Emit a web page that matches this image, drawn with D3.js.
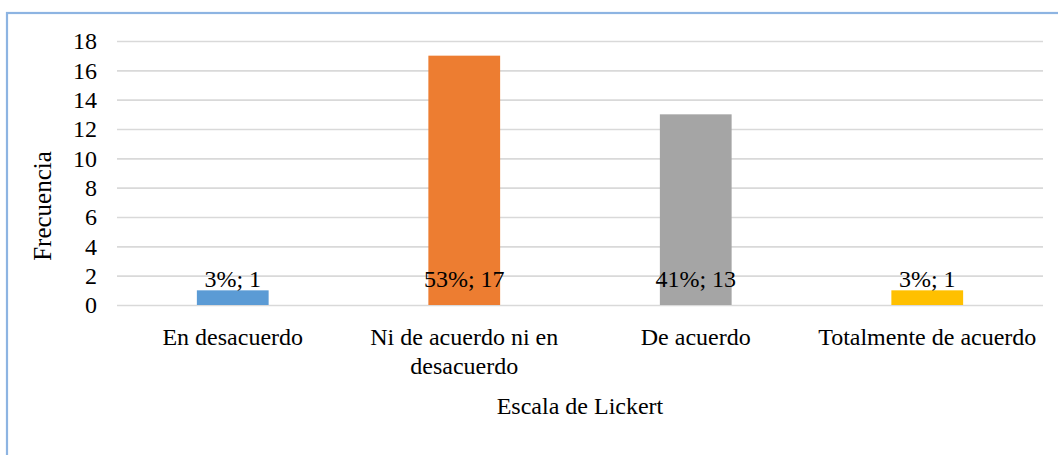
<!DOCTYPE html>
<html>
<head>
<meta charset="utf-8">
<script src="https://cdn.jsdelivr.net/npm/d3@7/dist/d3.min.js"></script>
<style>
  html, body { margin: 0; padding: 0; background: #fff; }
  svg { display: block; }
</style>
</head>
<body>
<svg id="chart" width="1058" height="455"></svg>
<script>
const categories = ["En desacuerdo", "Ni de acuerdo ni en desacuerdo", "De acuerdo", "Totalmente de acuerdo"];
const values = [1, 17, 13, 1];
const percents = ["3%", "53%", "41%", "3%"];
const colors = ["#5b9bd5", "#ed7d31", "#a5a5a5", "#ffc000"];
const yTicks = [0, 2, 4, 6, 8, 10, 12, 14, 16, 18];
const yTitle = "Frecuencia";
const xTitle = "Escala de Lickert";

const FONT = '"Liberation Serif", "Times New Roman", serif';
const W = 1058, H = 455;
const margin = { top: 41, right: 15, bottom: 150, left: 117 };
const iw = W - margin.left - margin.right;
const ih = H - margin.top - margin.bottom;

const svg = d3.select("#chart");

// outer chart border (light blue)
svg.append("rect")
  .attr("x", 7).attr("y", 13)
  .attr("width", W + 20).attr("height", H + 20)
  .attr("fill", "none")
  .attr("stroke", "#8db4e2")
  .attr("stroke-width", 2.2);

const g = svg.append("g").attr("transform", `translate(${margin.left},${margin.top})`);

const x = d3.scaleBand().domain(categories).range([0, iw]).paddingInner(0.69).paddingOuter(0.345);
const xc = d3.scaleBand().domain(categories).range([0, iw]);
const y = d3.scaleLinear().domain([0, 18]).range([ih, 0]);

const yAxis = d3.axisLeft(y).tickValues(yTicks).tickSize(-iw).tickPadding(20);
const ya = g.append("g").call(yAxis).attr("font-family", null).attr("font-size", null);
ya.select(".domain").remove();
ya.selectAll(".tick line").attr("stroke", "#d9d9d9").attr("stroke-width", 1.6);
ya.selectAll(".tick text")
  .style("font-family", FONT)
  .style("font-size", "24px")
  .attr("fill", "#000");

// bars
g.selectAll("rect.bar").data(categories).enter().append("rect")
  .attr("class", "bar")
  .attr("x", d => x(d))
  .attr("width", x.bandwidth())
  .attr("y", (d, i) => y(values[i]))
  .attr("height", (d, i) => y(0) - y(values[i]))
  .attr("fill", (d, i) => colors[i]);

// data labels
g.selectAll("text.lbl").data(categories).enter().append("text")
  .attr("class", "lbl")
  .attr("x", d => x(d) + x.bandwidth() / 2)
  .attr("y", y(0) - 18.5)
  .attr("text-anchor", "middle")
  .style("font-family", FONT)
  .style("font-size", "24px")
  .attr("fill", "#000")
  .text((d, i) => `${percents[i]}; ${values[i]}`);

// category labels with wrapping
const maxW = xc.bandwidth() - 8;
categories.forEach((c, i) => {
  const cx = xc(c) + xc.bandwidth() / 2;
  const t = g.append("text")
    .attr("x", cx).attr("y", ih + 40)
    .attr("text-anchor", "middle")
    .style("font-family", FONT)
    .style("font-size", "24px")
    .attr("fill", "#000");
  const words = c.split(" ");
  let line = [];
  let lineNo = 0;
  let tspan = t.append("tspan").attr("x", cx).attr("y", ih + 40);
  words.forEach(w => {
    line.push(w);
    tspan.text(line.join(" "));
    if (tspan.node().getComputedTextLength() > maxW && line.length > 1) {
      line.pop();
      tspan.text(line.join(" "));
      line = [w];
      lineNo++;
      tspan = t.append("tspan").attr("x", cx).attr("y", ih + 40 + lineNo * 29).text(w);
    }
  });
});

// axis titles
svg.append("text")
  .attr("x", 580)
  .attr("y", margin.top + ih + 109)
  .attr("text-anchor", "middle")
  .style("font-family", FONT)
  .style("font-size", "24px")
  .attr("fill", "#000")
  .text(xTitle);

svg.append("text")
  .attr("transform", `translate(51,206) rotate(-90)`)
  .attr("text-anchor", "middle")
  .style("font-family", FONT)
  .style("font-size", "25px")
  .attr("fill", "#000")
  .text(yTitle);
</script>
</body>
</html>
